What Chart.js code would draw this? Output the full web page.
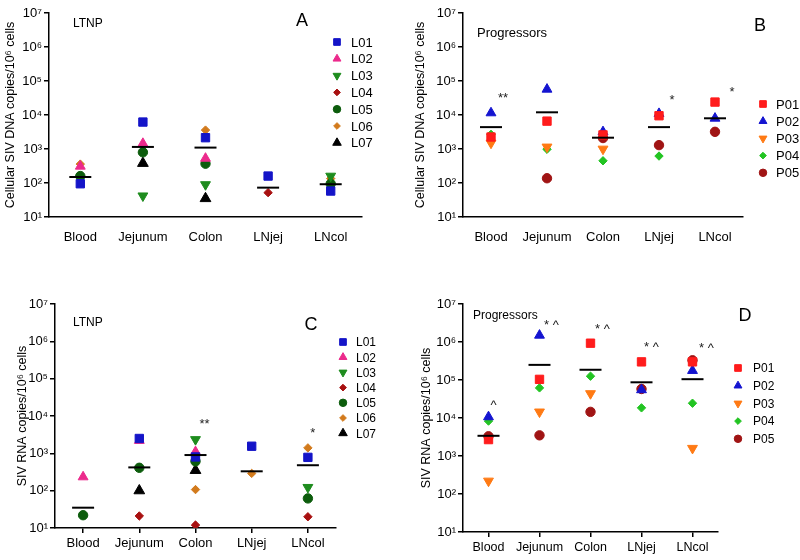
<!DOCTYPE html>
<html>
<head>
<meta charset="utf-8">
<script src="https://cdn.jsdelivr.net/npm/chart.js@4.4.0/dist/chart.umd.min.js"></script>
<style>
  body { margin: 0; background: #fff; width: 800px; height: 560px; overflow: hidden; }
  canvas { position: absolute; }
</style>
</head>
<body>
<canvas id="chartA" width="400" height="280" style="left:0;top:0"></canvas>
<canvas id="chartB" width="400" height="280" style="left:400px;top:0"></canvas>
<canvas id="chartC" width="400" height="280" style="left:0;top:280px"></canvas>
<canvas id="chartD" width="400" height="280" style="left:400px;top:280px"></canvas>
<script>
"use strict";
// data
const categories = ['Blood', 'Jejunum', 'Colon', 'LNjej', 'LNcol'];
const yTicks = [1e1, 1e2, 1e3, 1e4, 1e5, 1e6, 1e7];
const yTickLabels = ['10¹', '10²', '10³', '10⁴', '10⁵', '10⁶', '10⁷'];

const ltnpNames = ['L01', 'L02', 'L03', 'L04', 'L05', 'L06', 'L07'];
const progNames = ['P01', 'P02', 'P03', 'P04', 'P05'];

// A: LTNP cellular SIV DNA
const dnaL01 = [95, 6200, 2150, 160, 58];
const dnaL02 = [310, 1450, 530, null, null];
const dnaL03 = [null, 42, 90, null, 160];
const dnaL04 = [null, null, null, 52, null];
const dnaL05 = [160, 800, 370, null, 95];
const dnaL06 = [360, null, 3600, null, 135];
const dnaL07 = [null, 380, 35, null, null];
const dnaLtnpMean = [150, 1150, 1100, 73, 92];

// B: progressors cellular SIV DNA
const dnaP01 = [2250, 6600, 2600, 9500, 24000];
const dnaP02 = [11500, 57000, 3200, 11000, 8000];
const dnaP03 = [1500, 1150, 1000, null, null];
const dnaP04 = [2700, 980, 450, 620, null];
const dnaP05 = [null, 138, 2100, 1300, 3200];
const dnaProgMean = [4400, 12000, 2150, 4400, 8000];
const dnaProgNotes = ['**', null, null, '*', '*'];
const dnaProgNoteY = [30000, null, null, 27000, 45000];

// C: LTNP SIV RNA
const rnaL01 = [null, 2500, 800, 1550, 780];
const rnaL02 = [233, 2200, 1100, null, null];
const rnaL03 = [null, null, 2350, null, 123];
const rnaL04 = [null, 21, 12, null, 20];
const rnaL05 = [22, 410, 610, null, 62];
const rnaL06 = [null, null, 107, 290, 1400];
const rnaL07 = [null, 100, 350, null, null];
const rnaLtnpMean = [35, 420, 900, 330, 480];
const rnaLtnpNotes = [null, null, '**', null, '*'];
const rnaLtnpNoteY = [null, null, 6000, null, 3500];

// D: progressors SIV RNA
const rnaP01 = [2700, 104000, 930000, 300000, 300000];
const rnaP02 = [10700, 1500000, null, 55000, 177000];
const rnaP03 = [220, 14500, 44000, null, 1600];
const rnaP04 = [8300, 62000, 126000, 18500, 24500];
const rnaP05 = [3300, 3500, 14500, 58000, 330000];
const rnaProgMean = [3400, 250000, 186000, 87000, 105000];
const rnaProgNotes = ['^', '* ^', '* ^', '* ^', '* ^'];
const rnaProgNoteY = [21000, 2800000, 2100000, 740000, 670000];

// marker styles
const ltnpStyles = [
    { color: '#1414c8', pointStyle: 'rect', radius: 5.9, rotation: 0 },
    { color: '#ec2a8c', pointStyle: 'triangle', radius: 5.7, rotation: 0 },
    { color: '#1e8c1e', pointStyle: 'triangle', radius: 5.7, rotation: 180 },
    { color: '#a81010', pointStyle: 'rectRot', radius: 4.2, rotation: 0 },
    { color: '#0c5c0c', pointStyle: 'circle', radius: 4.7, rotation: 0 },
    { color: '#d27a1c', pointStyle: 'rectRot', radius: 4.2, rotation: 0 },
    { color: '#000000', pointStyle: 'triangle', radius: 6.2, rotation: 0 }
];
const progStyles = [
    { color: '#ff1c1c', pointStyle: 'rect', radius: 5.9, rotation: 0 },
    { color: '#1414d0', pointStyle: 'triangle', radius: 5.7, rotation: 0 },
    { color: '#ff7a14', pointStyle: 'triangle', radius: 5.7, rotation: 180 },
    { color: '#22c422', pointStyle: 'rectRot', radius: 4.2, rotation: 0 },
    { color: '#a01414', pointStyle: 'circle', radius: 4.7, rotation: 0 }
];

const FONT = 'Arial, "Liberation Sans", sans-serif';

function toPoints(values) {
    const pts = [];
    values.forEach(function(v, i) {
        if (v != null) pts.push({ x: categories[i], y: v });
    });
    return pts;
}

// draws group label, panel letter, legend and significance marks
const panelExtras = {
    id: 'panelExtras',
    afterDraw(chart, args, opts) {
        const ctx = chart.ctx;
        ctx.save();
        ctx.fillStyle = '#000';
        ctx.textBaseline = 'middle';
        ctx.textAlign = 'left';
        ctx.font = opts.groupSize + 'px ' + FONT;
        ctx.fillText(opts.group, opts.groupX, opts.groupY);
        ctx.textAlign = 'center';
        ctx.font = '18px ' + FONT;
        ctx.fillText(opts.letter, opts.letterX, opts.letterY);

        // legend
        ctx.textAlign = 'left';
        ctx.font = opts.legendSize + 'px ' + FONT;
        opts.names.forEach(function(name, i) {
            const st = opts.styles[i];
            const y = opts.legendY + i * opts.legendStep;
            ctx.fillStyle = st.color;
            ctx.strokeStyle = st.color;
            ctx.lineWidth = 1;
            Chart.helpers.drawPoint(ctx, { pointStyle: st.pointStyle, rotation: st.rotation, radius: st.radius * 0.8, borderWidth: 1 }, opts.legendMarkX, y);
            ctx.fillStyle = '#000';
            ctx.fillText(name, opts.legendTextX, y + 1);
        });

        // significance marks
        if (opts.notes) {
            const xs = chart.scales.x, ys = chart.scales.y;
            ctx.font = '13px ' + FONT;
            ctx.textAlign = 'center';
            ctx.fillStyle = '#222';
            opts.notes.forEach(function(t, i) {
                if (!t) return;
                ctx.fillText(t, xs.getPixelForValue(i) + opts.noteDx[i], ys.getPixelForValue(opts.noteY[i]));
            });
        }
        ctx.restore();
    }
};

function makePanel(id, seriesList, names, styles, means, yTitle, layout, extras) {
    const datasets = [{
        label: 'mean',
        data: toPoints(means),
        pointStyle: 'line',
        pointRadius: 11,
        borderColor: '#000',
        backgroundColor: '#000',
        pointBorderWidth: 2,
        showLine: false
    }];
    seriesList.forEach(function(vals, i) {
        const st = styles[i];
        datasets.push({
            label: names[i],
            data: toPoints(vals),
            pointStyle: st.pointStyle,
            rotation: st.rotation,
            pointRadius: st.radius,
            backgroundColor: st.color,
            borderColor: st.color,
            pointBorderWidth: 1,
            showLine: false
        });
    });

    return new Chart(document.getElementById(id), {
        type: 'scatter',
        data: { labels: categories, datasets: datasets },
        options: {
            responsive: false,
            animation: false,
            devicePixelRatio: 1,
            layout: { padding: layout.padding },
            plugins: {
                legend: { display: false },
                tooltip: { enabled: false },
                panelExtras: extras
            },
            scales: {
                x: {
                    type: 'category',
                    labels: categories,
                    offset: true,
                    border: { color: '#000', width: 1.5 },
                    grid: {
                        display: layout.xTicks,
                        drawOnChartArea: false,
                        drawTicks: true,
                        tickLength: 5,
                        color: '#000',
                        lineWidth: 1.5
                    },
                    ticks: {
                        color: '#000',
                        font: { family: FONT, size: layout.xFont },
                        padding: layout.xPad,
                        maxRotation: 0,
                        autoSkip: false
                    },
                    afterFit(scale) { scale.height = layout.xHeight; }
                },
                y: {
                    type: 'logarithmic',
                    min: 10,
                    max: 1e7,
                    border: { color: '#000', width: 1.5 },
                    grid: {
                        drawOnChartArea: false,
                        drawTicks: true,
                        tickLength: 5,
                        color: '#000',
                        lineWidth: 1.5
                    },
                    afterBuildTicks(scale) {
                        scale.ticks = yTicks.map(function(v) { return { value: v }; });
                    },
                    ticks: {
                        color: '#000',
                        padding: 2,
                        font: { family: FONT, size: 13 },
                        callback(value) { return yTickLabels[yTicks.indexOf(value)]; }
                    },
                    title: {
                        display: true,
                        text: yTitle,
                        color: '#000',
                        font: { family: FONT, size: 12.5 },
                        padding: { top: 3, bottom: 3 }
                    },
                    afterFit(scale) { scale.width = layout.yWidth; }
                }
            }
        },
        plugins: [panelExtras]
    });
}

const dnaTitle = 'Cellular SIV DNA copies/10⁶ cells';
const rnaTitle = 'SIV RNA copies/10⁶ cells';

makePanel('chartA',
    [dnaL01, dnaL02, dnaL03, dnaL04, dnaL05, dnaL06, dnaL07], ltnpNames, ltnpStyles, dnaLtnpMean, dnaTitle,
    { padding: { left: 0, top: 8, right: 38, bottom: 0 }, yWidth: 49, xHeight: 63, xTicks: false, xPad: 8, xFont: 13 },
    { group: 'LTNP', groupSize: 12, groupX: 73, groupY: 24, letter: 'A', letterX: 302, letterY: 21,
      names: ltnpNames, styles: ltnpStyles, legendMarkX: 337, legendTextX: 351, legendY: 42, legendStep: 16.8, legendSize: 13 });

makePanel('chartB',
    [dnaP01, dnaP02, dnaP03, dnaP04, dnaP05], progNames, progStyles, dnaProgMean, dnaTitle,
    { padding: { left: 10, top: 13, right: 57, bottom: 0 }, yWidth: 53, xHeight: 63, xTicks: false, xPad: 8, xFont: 13 },
    { group: 'Progressors', groupSize: 13, groupX: 77, groupY: 33, letter: 'B', letterX: 360, letterY: 26,
      names: progNames, styles: progStyles, legendMarkX: 363, legendTextX: 376, legendY: 104, legendStep: 17.2, legendSize: 13,
      notes: dnaProgNotes, noteY: dnaProgNoteY, noteDx: [12, 0, 0, 13, 17] });

makePanel('chartC',
    [rnaL01, rnaL02, rnaL03, rnaL04, rnaL05, rnaL06, rnaL07], ltnpNames, ltnpStyles, rnaLtnpMean, rnaTitle,
    { padding: { left: 12, top: 24, right: 64, bottom: 0 }, yWidth: 43, xHeight: 32, xTicks: true, xPad: 3, xFont: 13 },
    { group: 'LTNP', groupSize: 12, groupX: 73, groupY: 43, letter: 'C', letterX: 311, letterY: 45,
      names: ltnpNames, styles: ltnpStyles, legendMarkX: 343, legendTextX: 356, legendY: 62, legendStep: 15.2, legendSize: 12,
      notes: rnaLtnpNotes, noteY: rnaLtnpNoteY, noteDx: [0, 0, 9, 0, 5] });

makePanel('chartD',
    [rnaP01, rnaP02, rnaP03, rnaP04, rnaP05], progNames, progStyles, rnaProgMean, rnaTitle,
    { padding: { left: 16, top: 24, right: 82, bottom: 0 }, yWidth: 47, xHeight: 28, xTicks: true, xPad: 3, xFont: 12.5 },
    { group: 'Progressors', groupSize: 12, groupX: 73, groupY: 36, letter: 'D', letterX: 345, letterY: 36,
      names: progNames, styles: progStyles, legendMarkX: 338, legendTextX: 353, legendY: 88, legendStep: 17.7, legendSize: 12,
      notes: rnaProgNotes, noteY: rnaProgNoteY, noteDx: [5, 12, 12, 10, 14] });
</script>
</body>
</html>
